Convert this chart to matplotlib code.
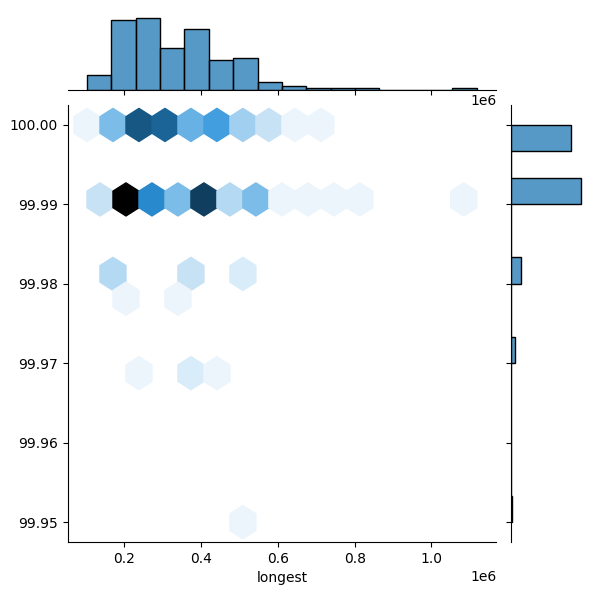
import colorsys
import numpy as np
import matplotlib
matplotlib.use("Agg")
import matplotlib.pyplot as plt
from matplotlib.colors import LinearSegmentedColormap, to_rgb, to_rgba

# data range (sets the hex grid and the histogram bins)
longest_min, longest_max = 103200, 1118000
pct_min, pct_max = 99.95, 100.00

# hexbin cells: position + number of assemblies
cell_longest = [103200, 170900, 238500, 306200, 373800, 441500, 509100, 576800, 644400, 712100,
                137000, 204700, 272300, 340000, 407600, 475300, 543000, 610600, 678300, 745900, 813600, 1084200,
                170900, 373800, 509100,
                204700, 340000,
                238500, 373800, 441500,
                509100]
cell_pct = [100.00] * 10 + [99.99] * 12 + [99.98] * 3 + [99.978] * 2 + [99.97] * 3 + [99.95]
cell_count = [1, 7, 16, 15, 8, 10, 5, 3, 1, 1,
              3, 23, 12, 7, 18, 4, 7, 1, 1, 1, 1, 1,
              4, 3, 2,
              1, 1,
              1, 2, 1,
              1]

# marginal histograms
longest_hist = [7, 33, 34, 20, 29, 14, 15, 4, 2, 1, 1, 1, 0, 0, 0, 1]
pct_hist = [1, 0, 0, 0, 0, 0, 4, 0, 0, 11, 0, 0, 79, 0, 67]

# seaborn-like light->dark colormap built from C0
h, l, s = colorsys.rgb_to_hls(*to_rgb("#1f77b4"))
cmap = LinearSegmentedColormap.from_list(
    "blend", [colorsys.hls_to_rgb(h, lv, s) for lv in np.linspace(1, 0, 12)])
bar_face = to_rgba("#1f77b4", 0.75)

fig = plt.figure(figsize=(6, 6), dpi=100)
gs = fig.add_gridspec(6, 6, left=0.1125, right=0.975, bottom=0.0967, top=0.9755,
                      hspace=0.2, wspace=0.2)
ax = fig.add_subplot(gs[1:, :-1])
ax_x = fig.add_subplot(gs[0, :-1], sharex=ax)
ax_y = fig.add_subplot(gs[1:, -1], sharey=ax)

ax.hexbin(cell_longest, cell_pct, C=cell_count, reduce_C_function=np.sum,
          gridsize=15, extent=(longest_min, longest_max, pct_min, pct_max),
          cmap=cmap, vmin=0)
ax.set_xlabel("longest")
# label sits mostly off the left edge, as in the original
ax.set_ylabel("percentage", labelpad=7.5)

x_edges = np.linspace(longest_min, longest_max, len(longest_hist) + 1)
ax_x.bar(x_edges[:-1], longest_hist, width=np.diff(x_edges), align="edge",
         facecolor=bar_face, edgecolor="black", linewidth=1)
y_edges = np.linspace(pct_min, pct_max, len(pct_hist) + 1)
ax_y.barh(y_edges[:-1], pct_hist, height=np.diff(y_edges), align="edge",
          facecolor=bar_face, edgecolor="black", linewidth=1)

for side in ["top", "right"]:
    ax.spines[side].set_visible(False)
for side in ["top", "right", "left"]:
    ax_x.spines[side].set_visible(False)
for side in ["top", "right", "bottom"]:
    ax_y.spines[side].set_visible(False)

plt.setp(ax_x.get_xticklabels(), visible=False)
ax_x.tick_params(axis="y", left=False, labelleft=False)
plt.setp(ax_y.get_yticklabels(), visible=False)
ax_y.tick_params(axis="x", bottom=False, labelbottom=False)

fig.savefig("out.png", dpi=100)
